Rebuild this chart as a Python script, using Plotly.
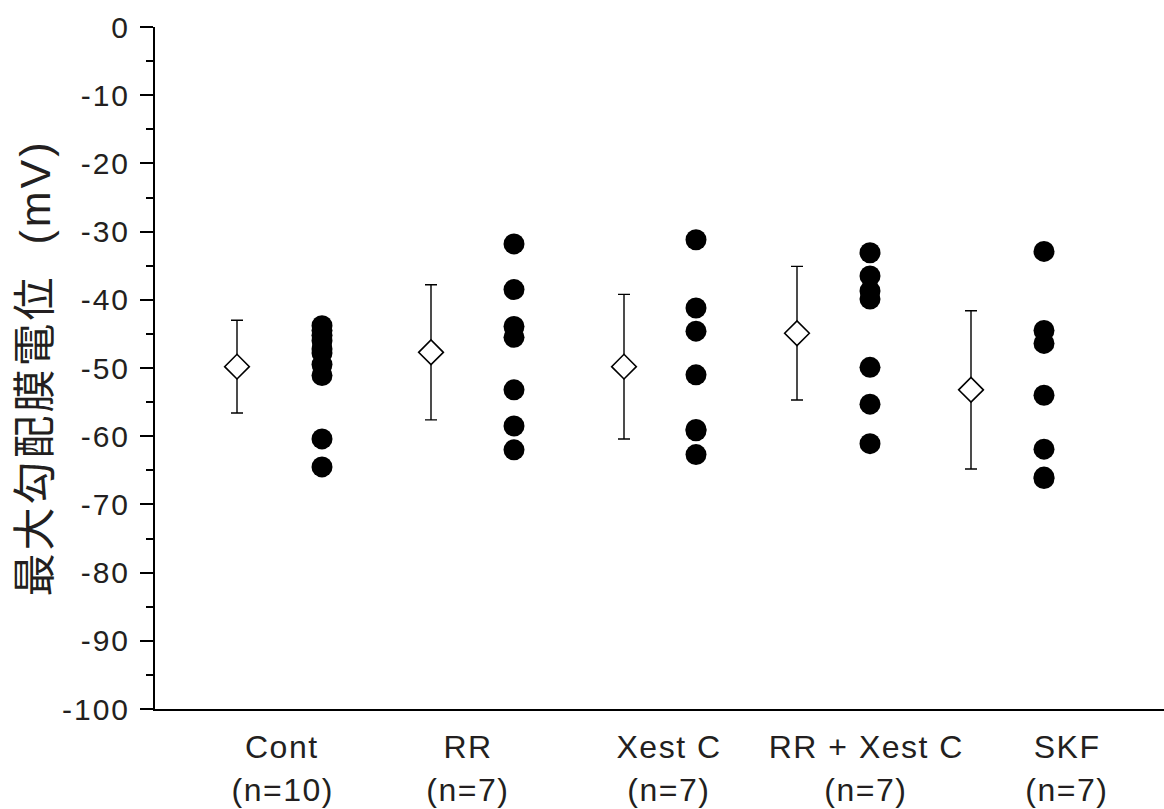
import plotly.graph_objects as go

categories = ["Cont", "RR", "Xest C", "RR + Xest C", "SKF"]
n_labels = ["(n=10)", "(n=7)", "(n=7)", "(n=7)", "(n=7)"]

cont_vals = [-43.8, -44.5, -45.2, -46.0, -47.2, -47.8, -49.5, -51.1, -60.4, -64.5]
rr_vals = [-31.8, -38.5, -43.9, -45.5, -53.2, -58.5, -62.0]
xest_vals = [-31.2, -41.2, -44.6, -51.0, -59.0, -59.2, -62.7]
rrxest_vals = [-33.1, -36.5, -38.7, -39.9, -49.9, -55.3, -61.1]
skf_vals = [-32.9, -44.5, -46.4, -54.0, -61.9, -66.0, -66.2]

means = [-49.8, -47.7, -49.8, -44.9, -53.2]
sds = [6.8, 9.9, 10.6, 9.8, 11.6]

y_ticks = [0, -10, -20, -30, -40, -50, -60, -70, -80, -90, -100]

# layout positions (x axis expressed in screen-like units)
label_x = [282, 468, 669, 866, 1067]
mean_x = [237, 431, 624, 797, 971]
dot_x = [322, 514, 696, 870, 1044]

groups = [cont_vals, rr_vals, xest_vals, rrxest_vals, skf_vals]

fig = go.Figure()

for gx, vals in zip(dot_x, groups):
    fig.add_trace(go.Scatter(
        x=[gx] * len(vals), y=vals, mode="markers",
        marker=dict(symbol="circle", size=21, color="black", line=dict(width=0)),
        showlegend=False, cliponaxis=False))

fig.add_trace(go.Scatter(
    x=mean_x, y=means, mode="markers",
    marker=dict(symbol="diamond", size=19, color="white", line=dict(color="black", width=1.6)),
    error_y=dict(type="data", array=sds, visible=True, color="black", thickness=1.4, width=6),
    showlegend=False, cliponaxis=False))

XMIN, XMAX = 155, 1164
PT, PB = 27, 709
PH = PB - PT
TXT = "#231f20"
LAT = "Liberation Sans, Arial, sans-serif"

fig.update_xaxes(range=[XMIN, XMAX], showline=True, linecolor="black", linewidth=2,
                 showticklabels=False, ticks="", showgrid=False, zeroline=False, fixedrange=True)
fig.update_yaxes(range=[-100, 0], tickvals=y_ticks, ticktext=[str(v) for v in y_ticks],
                 showline=True, linecolor="black", linewidth=2,
                 ticks="outside", ticklen=13, tickwidth=2, tickcolor="black",
                 ticklabelstandoff=4,
                 minor=dict(dtick=5, ticks="outside", ticklen=7, tickwidth=2, tickcolor="black"),
                 tickfont=dict(family=LAT, size=30, color=TXT),
                 showgrid=False, zeroline=False)

annotations = []
for lx, cat, nl in zip(label_x, categories, n_labels):
    annotations.append(dict(x=lx, xref="x", y=(PB - 747) / PH, yref="paper",
                            text=cat, showarrow=False, xanchor="center", yanchor="middle",
                            font=dict(family=LAT, size=32, color=TXT)))
    annotations.append(dict(x=lx, xref="x", y=(PB - 790) / PH, yref="paper",
                            text=nl, showarrow=False, xanchor="center", yanchor="middle",
                            font=dict(family=LAT, size=32, color=TXT)))

annotations.append(dict(x=(35 - XMIN) / (XMAX - XMIN), xref="paper", y=(PB - 368) / PH, yref="paper",
                        text="最大勾配膜電位&nbsp;&nbsp;(mV)", textangle=-90, showarrow=False,
                        xanchor="center", yanchor="middle",
                        font=dict(family="Liberation Sans, Noto Sans CJK JP", size=43, color=TXT)))

fig.update_layout(
    width=1164, height=809,
    margin=dict(l=155, r=0, t=PT, b=809 - PB),
    plot_bgcolor="white", paper_bgcolor="white",
    annotations=annotations,
    shapes=[dict(type="line", xref="paper", yref="paper", x0=(142 - XMIN) / (XMAX - XMIN), x1=0,
                 y0=0, y1=0, line=dict(color="black", width=2))],
)

post = """
document.body.style.margin='0';
document.body.style.overflow='hidden';
document.querySelectorAll('g.ytick text').forEach(function(t){t.style.letterSpacing='2px';});
var ann = document.querySelectorAll('g.annotation-text-g text');
ann.forEach(function(t){
  if (t.textContent.indexOf('最') >= 0) { t.style.letterSpacing='3px'; }
  else { t.style.letterSpacing='1.5px'; }
});
"""

fig.write_html("out.html", config={"displayModeBar": False}, post_script=post)
